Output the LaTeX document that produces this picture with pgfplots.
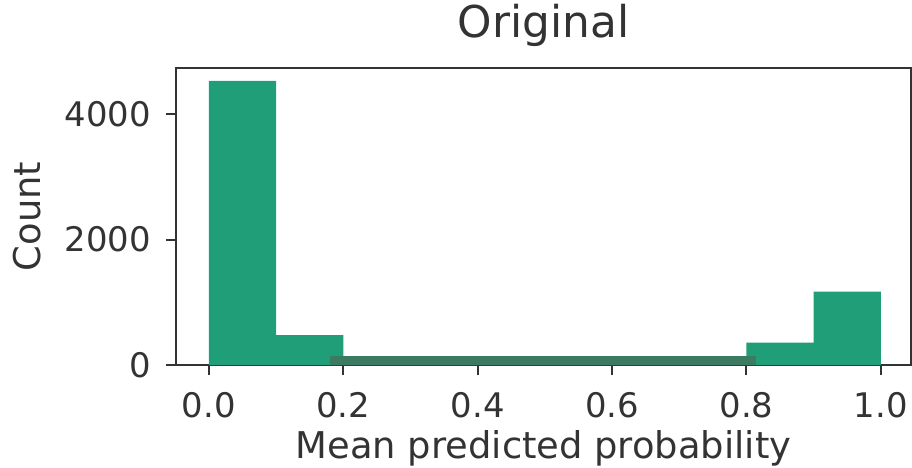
\documentclass[border=0pt]{standalone}
\usepackage{fontspec}
\setmainfont{DejaVu Sans}
\usepackage{pgfplots}
\pgfplotsset{compat=1.18}
\definecolor{bargreen}{HTML}{1F9E77}
\definecolor{stripgreen}{HTML}{3A7B62}
\definecolor{spine}{HTML}{333333}

\begin{document}
\begin{tikzpicture}
\path[use as bounding box] (-88bp,-51.5bp) rectangle (368bp,182.5bp);
\begin{axis}[
    at={(0,0)}, anchor=south west,
    scale only axis, width=367.5bp, height=148.5bp,
    xmin=-0.049, xmax=1.045, ymin=0, ymax=4735,
    axis line style={spine, line width=1bp},
    xtick={0,0.2,0.4,0.6,0.8,1.0}, ytick={0,2000,4000},
    tick align=outside, major tick length=5bp,
    tick style={spine, line width=1bp},
    tick pos=left,
    /pgf/number format/assume math mode=true,
    xticklabel style={/pgf/number format/fixed, /pgf/number format/fixed zerofill,
        /pgf/number format/precision=1, yshift=-5bp},
    yticklabel style={/pgf/number format/set thousands separator={}, xshift=-4bp},
    ticklabel style={font=\fontsize{17}{20}\selectfont, text=spine},
    title={Original},
    title style={font=\fontsize{22}{26}\selectfont, text=spine,
        at={(axis description cs:0.5,1)}, anchor=base, yshift=9.5bp},
    xlabel={Mean predicted probability},
    xlabel style={font=\fontsize{18.5}{22}\selectfont, text=spine,
        at={(axis description cs:0.5,0)}, anchor=base, yshift=-46.5bp},
    ylabel={Count},
    ylabel style={font=\fontsize{18.5}{22}\selectfont, text=spine,
        at={(axis description cs:-0.2027,0.5)}, anchor=center},
]
\addplot[ybar interval, fill=bargreen, draw=none] coordinates {
    (0.0,4530) (0.1,478) (0.2,0) (0.3,0) (0.4,0) (0.5,0)
    (0.6,0) (0.7,0) (0.8,356) (0.9,1168) (1.0,1168)
};
% dark strip lying along the bottom between 0.2 and 0.8
\addplot[fill=stripgreen, draw=none] coordinates {
    (0.18,0) (0.815,0) (0.815,145) (0.18,145)
} -- cycle;
\end{axis}
\end{tikzpicture}
\end{document}
